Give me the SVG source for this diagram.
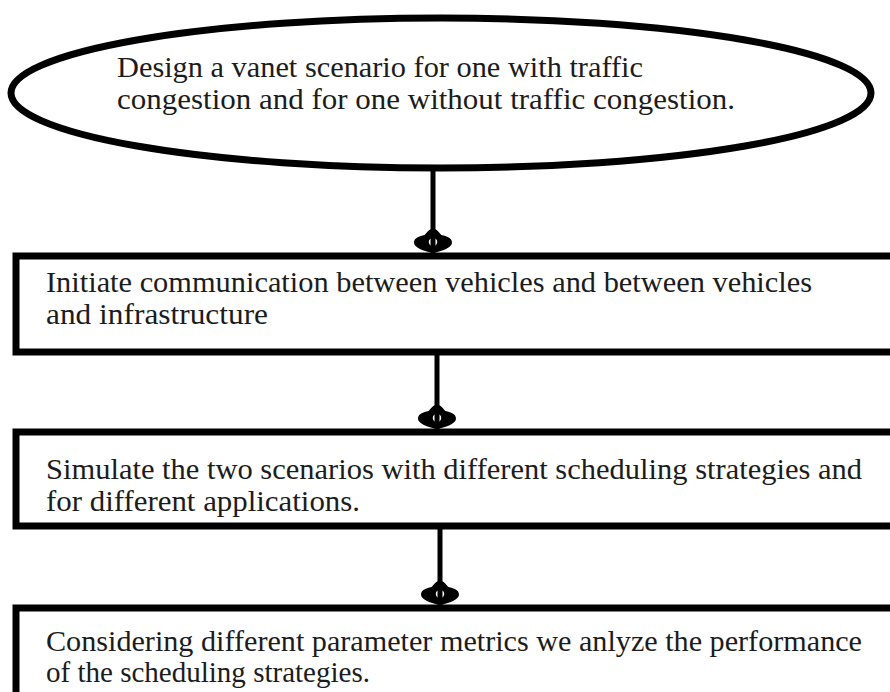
<svg xmlns="http://www.w3.org/2000/svg" width="890" height="692" viewBox="0 0 890 692">
  <style>
    .shape { fill: #ffffff; stroke: #000000; stroke-width: 7; }
    .label { font-family: "Liberation Serif", "Times New Roman", serif; font-size: 30px; fill: #1c1c1c; }
    .link { stroke: #000000; stroke-width: 5; fill: none; }
  </style>
  <defs>
    <!-- blunt, rounded arrowhead with a small open eye in its middle -->
    <marker id="blob" markerUnits="userSpaceOnUse" orient="0" markerWidth="38" markerHeight="26" viewBox="0 0 36 24" refX="18" refY="24" overflow="visible">
      <path fill="#000000" fill-rule="evenodd" d="M18,1 C22,1 24,5 26,7 C31,8 36,10 36,14 C36,19 27,22 18,24 C9,22 0,19 0,14 C0,10 5,8 10,7 C12,5 14,1 18,1 Z M18,9.5 A4,4 0 1 0 18,17.5 A4,4 0 1 0 18,9.5 Z"/>
    </marker>
  </defs>

  <rect x="0" y="0" width="890" height="692" fill="#ffffff"/>

  <!-- connectors -->
  <g id="connectors">
    <line class="link" x1="433" y1="168" x2="433" y2="253" marker-end="url(#blob)"/>
    <line class="link" x1="437" y1="352" x2="437" y2="429" marker-end="url(#blob)"/>
    <line class="link" x1="440" y1="526" x2="440" y2="605" marker-end="url(#blob)"/>
  </g>

  <g id="design-scenario">
    <ellipse class="shape" cx="441" cy="93" rx="430" ry="75"/>
    <text class="label" x="117" y="77" textLength="526" lengthAdjust="spacingAndGlyphs">Design a vanet scenario for one with traffic</text>
    <text class="label" x="117" y="109" textLength="618" lengthAdjust="spacingAndGlyphs">congestion and for one without traffic congestion.</text>
  </g>

  <g id="initiate-communication">
    <rect class="shape" x="16" y="256" width="900" height="96"/>
    <text class="label" x="46" y="292" textLength="766" lengthAdjust="spacingAndGlyphs">Initiate communication between vehicles and between vehicles</text>
    <text class="label" x="46" y="324" textLength="222" lengthAdjust="spacingAndGlyphs">and infrastructure</text>
  </g>

  <g id="simulate-scenarios">
    <rect class="shape" x="16" y="432" width="900" height="94"/>
    <text class="label" x="46" y="479" textLength="816" lengthAdjust="spacingAndGlyphs">Simulate the two scenarios with different scheduling strategies and</text>
    <text class="label" x="46" y="511" textLength="314" lengthAdjust="spacingAndGlyphs">for different applications.</text>
  </g>

  <g id="analyze-performance">
    <rect class="shape" x="16" y="608" width="900" height="120"/>
    <text class="label" x="46" y="651" textLength="816" lengthAdjust="spacingAndGlyphs">Considering different parameter metrics we anlyze the performance</text>
    <text class="label" x="46" y="682" textLength="324" lengthAdjust="spacingAndGlyphs">of the scheduling strategies.</text>
  </g>
</svg>
